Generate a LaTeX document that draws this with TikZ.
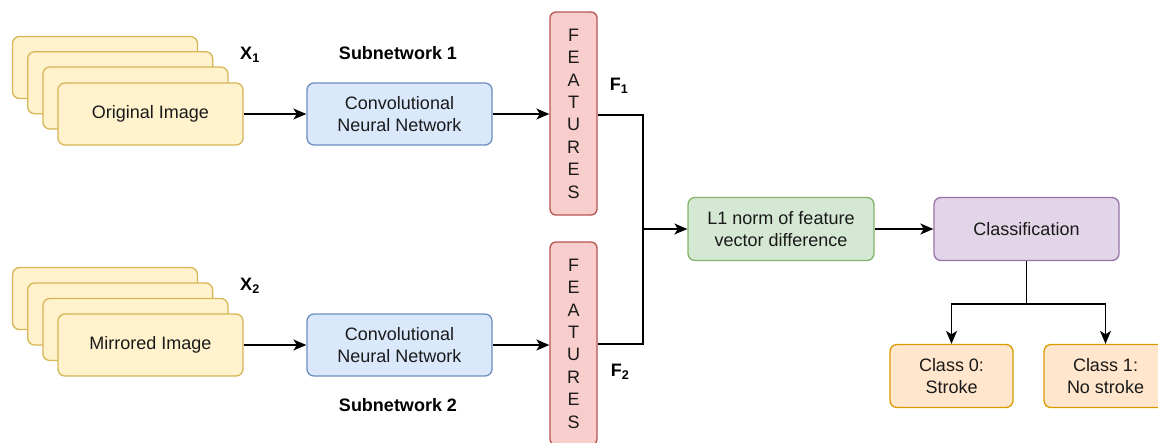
\documentclass[tikz,border=0pt]{standalone}
\usepackage{fontspec}
\setmainfont{Liberation Sans}
\usetikzlibrary{arrows.meta}

\definecolor{imgF}{HTML}{FFF2CC}\definecolor{imgS}{HTML}{D6B656}
\definecolor{cnnF}{HTML}{DAE8FC}\definecolor{cnnS}{HTML}{6C8EBF}
\definecolor{featF}{HTML}{F8CECC}\definecolor{featS}{HTML}{B85450}
\definecolor{normF}{HTML}{D5E8D4}\definecolor{normS}{HTML}{82B366}
\definecolor{clsF}{HTML}{E1D5E7}\definecolor{clsS}{HTML}{9673A6}
\definecolor{outF}{HTML}{FFE6CC}\definecolor{outS}{HTML}{D79B00}
\definecolor{ink}{HTML}{1A1A1A}

\begin{document}
\begin{tikzpicture}[x=1pt,y=-1pt,
  font=\fontsize{18}{22.5}\selectfont, text=ink,
  box/.style={draw, rounded corners=7pt, line width=1.3pt,
    minimum width=185pt, minimum height=62pt, inner sep=0pt, align=center},
  card/.style={box, draw=imgS, fill=imgF},
  cnn/.style={box, draw=cnnS, fill=cnnF},
  norm/.style={box, draw=normS, fill=normF, minimum width=186pt, minimum height=63pt},
  cls/.style={box, draw=clsS, fill=clsF, minimum height=63pt},
  outcome/.style={box, draw=outS, fill=outF, minimum width=123pt, minimum height=63pt},
  feat/.style={draw=featS, fill=featF, rounded corners=6pt, line width=1.3pt,
    minimum width=47pt, minimum height=203pt, inner sep=0pt, align=center,
    font=\fontsize{18}{22.4}\selectfont},
  lbl/.style={font=\fontsize{18}{22}\selectfont\bfseries, text=black},
  arr/.style={-{Stealth[length=13pt,width=11pt,inset=3.5pt]}, line width=1.5pt},
  wire/.style={line width=1.5pt}]

\useasboundingbox (0,0) rectangle (1158,442);
\clip (0,0) rectangle (1158,442);

% upper input stack
\node[card] (o1) at (105,67.5) {};
\node[card] (o2) at (120.2,82.7) {};
\node[card] (o3) at (135.4,98) {};
\node[card] (orig) at (150.5,114) {Original Image};
\node[lbl] (x1) at (250,55) {X\textsubscript{1}};

% lower input stack
\node[card] (m1) at (105,298.5) {};
\node[card] (m2) at (120.2,314) {};
\node[card] (m3) at (135.4,329.5) {};
\node[card] (mirr) at (150.5,345) {Mirrored Image};
\node[lbl] (x2) at (250,286) {X\textsubscript{2}};

% twin subnetworks
\node[cnn] (cnnA) at (399.5,114) {Convolutional\\Neural Network};
\node[cnn] (cnnB) at (399.5,345) {Convolutional\\Neural Network};
\node[lbl] (subA) at (398,53) {Subnetwork 1};
\node[lbl] (subB) at (398,405) {Subnetwork 2};

% feature vectors
\node[feat] (featA) at (573.5,113.5) {F\\E\\A\\T\\U\\R\\E\\S};
\node[feat] (featB) at (573.5,343.5) {F\\E\\A\\T\\U\\R\\E\\S};
\node[lbl] (fA) at (619,86) {F\textsubscript{1}};
\node[lbl] (fB) at (620,372) {F\textsubscript{2}};

% distance and decision
\node[norm] (dist) at (781,229) {L1 norm of feature\\vector difference};
\node[cls] (clf) at (1026.5,229) {Classification};
\node[outcome] (c0) at (951.5,376) {Class 0:\\Stroke};
\node[outcome] (c1) at (1105.5,376) {Class 1:\\No stroke};

\coordinate (merge) at (643,229);
\coordinate (split) at (1026.5,304);

% connectors
\draw[arr] (orig.east) -- (cnnA.west);
\draw[arr] (mirr.east) -- (cnnB.west);
\draw[arr] (cnnA.east) -- (featA.west |- cnnA.east);
\draw[arr] (cnnB.east) -- (featB.west |- cnnB.east);
\draw[wire] (featA.east |- 0,115) -| (merge);
\draw[wire] (featB.east |- 0,344) -| (merge);
\draw[arr] (merge) -- (dist.west);
\draw[arr] (dist.east) -- (clf.west);
\draw[wire] (clf.south) -- (split);
\draw[arr] (split) -| (c0.north);
\draw[arr] (split) -| (c1.north);
\end{tikzpicture}
\end{document}
